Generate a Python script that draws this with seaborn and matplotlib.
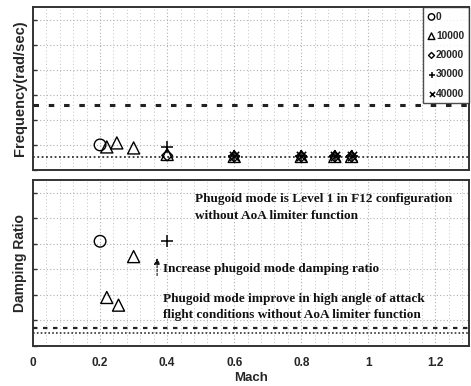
import numpy as np
import pandas as pd
import matplotlib
matplotlib.use("Agg")
import matplotlib.pyplot as plt
from matplotlib.ticker import MultipleLocator, FixedLocator
import seaborn as sns

sns.set_style("white")
plt.rcParams["font.family"] = ["Liberation Sans", "DejaVu Sans"]

# Phugoid frequency (rad/sec) by altitude (ft)
alt_labels = ["0", "10000", "20000", "30000", "40000"]
alt_markers = ["o", "^", "D", "+", "x"]

freq_mach = {
    "0": [0.20],
    "10000": [0.22, 0.25, 0.30, 0.40, 0.60, 0.80, 0.90, 0.95],
    "20000": [0.40, 0.60, 0.80, 0.90, 0.95],
    "30000": [0.40, 0.60, 0.80, 0.90, 0.95],
    "40000": [0.60, 0.80, 0.90, 0.95],
}
freq_vals = {
    "0": [0.100],
    "10000": [0.092, 0.108, 0.088, 0.062, 0.054, 0.054, 0.054, 0.054],
    "20000": [0.058, 0.054, 0.054, 0.054, 0.054],
    "30000": [0.090, 0.054, 0.054, 0.054, 0.054],
    "40000": [0.054, 0.054, 0.054, 0.054],
}

# Phugoid damping ratio by altitude
damp_mach = {
    "0": [0.20],
    "10000": [0.22, 0.255, 0.30],
    "30000": [0.40],
}
damp_vals = {
    "0": [0.41],
    "10000": [0.19, 0.16, 0.35],
    "30000": [0.41],
}

# Requirement boundaries
freq_upper = 0.26
freq_lower = 0.052
damp_level1 = 0.072
damp_lower = 0.050

mach_ticks = [0, 0.2, 0.4, 0.6, 0.8, 1.0, 1.2]
mach_tick_labels = ["0", "0.2", "0.4", "0.6", "0.8", "1", "1.2"]

fig = plt.figure(figsize=(4.71, 3.86), dpi=100)
W, H = 471, 386
ax1 = fig.add_axes([33 / W, 1 - 170 / H, 436 / W, 163 / H])
ax2 = fig.add_axes([33 / W, 1 - 346 / H, 436 / W, 166 / H])

marker_sizes = {"o": 70, "^": 75, "D": 30, "+": 70, "x": 45}


def draw_points(ax, mach, vals, with_legend):
    for lab, mk in zip(alt_labels, alt_markers):
        if lab not in mach:
            continue
        df = pd.DataFrame({"Mach": mach[lab], "val": vals[lab]})
        filled = mk not in ("+", "x")
        kw = dict(facecolors="none", edgecolor="black", linewidth=1.0) if filled \
            else dict(color="black", linewidth=1.1)
        sns.scatterplot(data=df, x="Mach", y="val", marker=mk, s=marker_sizes[mk],
                        ax=ax, label=lab if with_legend else None, zorder=4, **kw)


draw_points(ax1, freq_mach, freq_vals, True)
draw_points(ax2, damp_mach, damp_vals, False)

# Top panel: frequency boundaries
sns.lineplot(x=[0, 1.3], y=[freq_upper, freq_upper], ax=ax1, color="#222222",
             linewidth=2.2, linestyle=(0, (1.8, 3.2)), zorder=3)
sns.lineplot(x=[0, 1.3], y=[freq_lower, freq_lower], ax=ax1, color="#333333",
             linewidth=1.3, linestyle=(0, (1, 1.4)), zorder=3)

# Bottom panel: damping boundaries
sns.lineplot(x=[0, 1.3], y=[damp_level1, damp_level1], ax=ax2, color="#222222",
             linewidth=1.6, linestyle=(0, (2, 2.5)), zorder=3)
sns.lineplot(x=[0, 1.3], y=[damp_lower, damp_lower], ax=ax2, color="#333333",
             linewidth=1.2, linestyle=(0, (1, 1.3)), zorder=3)

for ax in (ax1, ax2):
    ax.set_xlim(0, 1.3)
    ax.set_ylim(0, 0.65)
    ax.xaxis.set_major_locator(FixedLocator(mach_ticks))
    ax.xaxis.set_minor_locator(MultipleLocator(0.04))
    ax.yaxis.set_major_locator(MultipleLocator(0.1))
    ax.grid(True, which="major", color="#b0b0b0", linestyle=(0, (1, 2)), linewidth=0.8)
    ax.grid(True, which="minor", axis="x", color="#c4c4c4", linestyle=(0, (1, 2.5)), linewidth=0.7)
    ax.set_axisbelow(True)
    for sp in ax.spines.values():
        sp.set_color("#333333")
        sp.set_linewidth(1.4)
    ax.tick_params(axis="y", which="major", direction="in", length=3, width=1,
                   labelleft=False, left=True, color="#333333")
    ax.tick_params(axis="x", which="both", length=0)

ax1.tick_params(axis="x", labelbottom=False)
ax1.set_xlabel("")
ax1.set_ylabel("Frequency(rad/sec)", fontsize=10.5, fontweight="bold")
ax1.yaxis.set_label_coords(-0.013, 0.5)

leg = ax1.legend(loc="upper right", frameon=True, fancybox=False, fontsize=7.4,
                 handletextpad=0.05, handlelength=0.8, borderpad=0.45, labelspacing=0.9,
                 borderaxespad=0, markerscale=0.55)
leg.get_frame().set_edgecolor("#222222")
leg.get_frame().set_linewidth(1.0)
for t in leg.get_texts():
    t.set_fontweight("bold")

ax2.set_xticks(mach_ticks)
ax2.set_xticklabels(mach_tick_labels, fontsize=8.5, fontweight="bold")
ax2.tick_params(axis="x", pad=8)
ax2.set_xlabel("Mach", fontsize=9.5, fontweight="bold", labelpad=2)
ax2.set_ylabel("Damping Ratio", fontsize=10, fontweight="bold")
ax2.yaxis.set_label_coords(-0.013, 0.5)

serif = ["Liberation Serif", "DejaVu Serif"]
ax2.text(0.484, 0.542, "Phugoid mode is Level 1 in F12 configuration\nwithout AoA limiter function",
         family=serif, fontsize=9.5, fontweight="bold", va="center", ha="left",
         linespacing=1.5, color="#111111")
ax2.text(0.388, 0.300, "Increase phugoid mode damping ratio",
         family=serif, fontsize=9.5, fontweight="bold", va="center", ha="left", color="#111111")
ax2.text(0.388, 0.152, "Phugoid mode improve in high angle of attack\nflight conditions without AoA limiter function",
         family=serif, fontsize=9.5, fontweight="bold", va="center", ha="left",
         linespacing=1.45, color="#111111")
ax2.annotate("", xy=(0.37, 0.355), xytext=(0.37, 0.265),
             arrowprops=dict(arrowstyle="-|>", color="#111111", linewidth=0.8,
                             linestyle=(0, (2, 1.5)), mutation_scale=9))

fig.savefig("out.png", dpi=100)
